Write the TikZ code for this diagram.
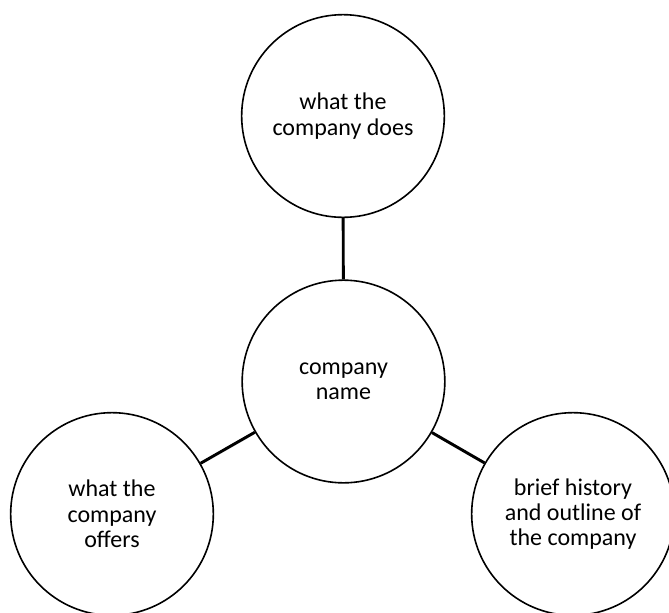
\documentclass[tikz,border=0pt]{standalone}
\usepackage{fontspec}
\setmainfont{Carlito}
\begin{document}
\begin{tikzpicture}[x=0.75pt,y=-0.75pt,
  bulle/.style={draw=black,line width=1.2pt,circle,minimum size=152pt,inner sep=0pt,align=center,font=\fontsize{18}{19}\selectfont},
  lien/.style={draw=black,line width=2.2pt}]
\useasboundingbox (0,0) rectangle (669,612);
% le cercle central et les trois cercles autour
\node[bulle] (nom) at (343.5,381.5) {company\\name};
\node[bulle] (fait) at (343,116) {what the\\company does};
\node[bulle] (offre) at (112,514) {what the\\company\\offers};
\node[bulle] (histoire) at (573,514) {brief history\\and outline of\\the company};
% les liens
\draw[lien] (fait) -- (nom);
\draw[lien] (nom) -- (offre);
\draw[lien] (nom) -- (histoire);
\end{tikzpicture}
\end{document}
